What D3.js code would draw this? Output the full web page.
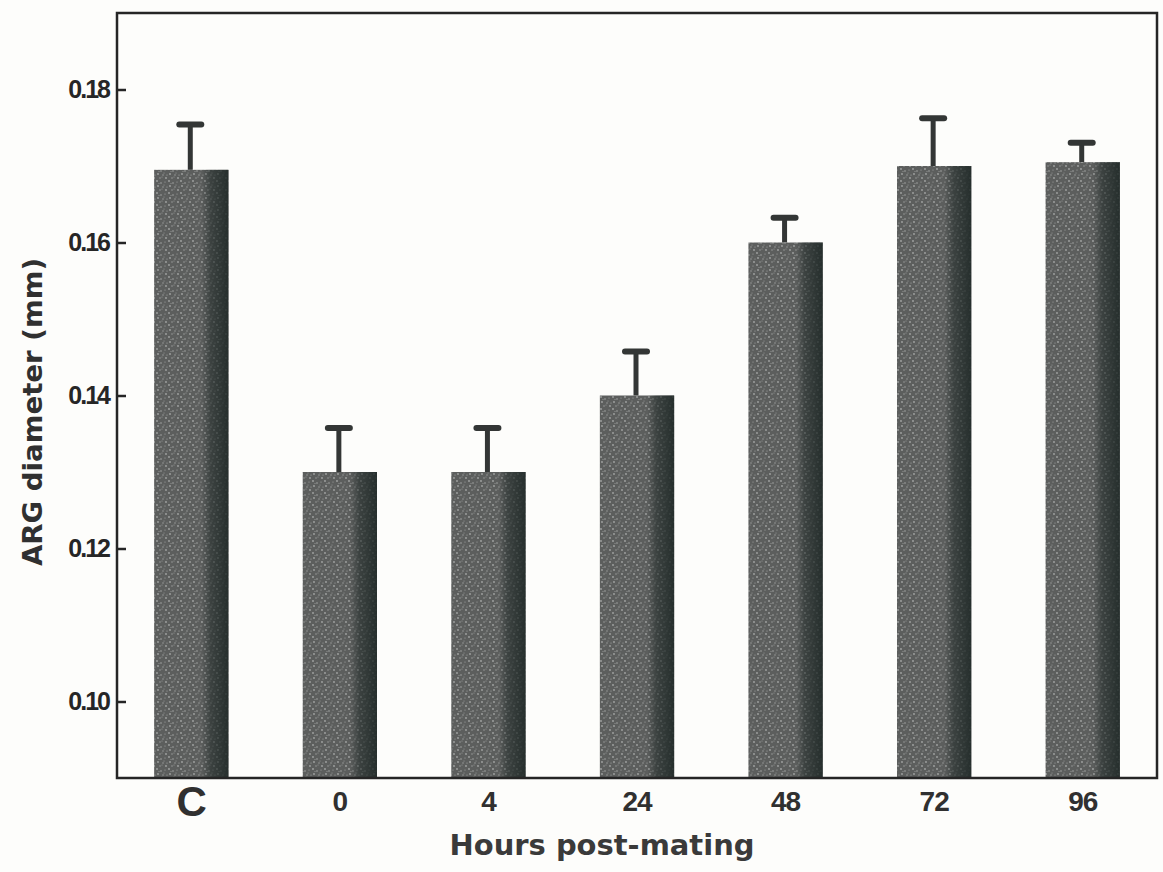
<!DOCTYPE html>
<html>
<head>
<meta charset="utf-8">
<script src="https://cdn.jsdelivr.net/npm/d3@7"></script>
<style>
  html, body { margin: 0; padding: 0; background: #fdfdfb; }
  svg { display: block; }
</style>
</head>
<body>
<svg id="chart" width="1163" height="872"></svg>
<script>
// Mean ARG diameter (mm) by time after mating, with upper error bar
const categories = ["C", "0", "4", "24", "48", "72", "96"];
const means      = [0.1695, 0.130, 0.130, 0.140, 0.160, 0.170, 0.1705];
const errTops    = [0.1757, 0.136, 0.136, 0.146, 0.1635, 0.1765, 0.1733];
const yTicks     = [0.10, 0.12, 0.14, 0.16, 0.18];
const yDomain    = [0.09, 0.19];

const svg = d3.select("#chart");
const margin = { left: 117, right: 6, top: 13, bottom: 94 };
const W = 1163, H = 872;
const ink = "#252525";
const labelFont = "'DejaVu Sans', 'Liberation Sans', sans-serif";

const x = d3.scaleBand()
  .domain(categories)
  .range([margin.left, W - margin.right])
  .paddingInner(0.5)
  .paddingOuter(0.25);

const y = d3.scaleLinear()
  .domain(yDomain)
  .range([H - margin.bottom, margin.top]);

// stippled fill for the bars
const defs = svg.append("defs");
const pat = defs.append("pattern")
  .attr("id", "stipple")
  .attr("patternUnits", "userSpaceOnUse")
  .attr("width", 12).attr("height", 12);
pat.append("rect").attr("width", 12).attr("height", 12).attr("fill", "#5c5e5d");
[[1,1,0.9],[5,3,0.8],[2,6,0.9],[7,7,0.7],[4,10,0.7],[9,2,0.6],[10,10,0.9],[8,5,0.5],[11,7,0.6],[3,3.5,0.5],[6,9,0.5]]
  .forEach(([cx, cy, r]) => {
    pat.append("circle").attr("cx", cx).attr("cy", cy).attr("r", r).attr("fill", "#a2a4a3");
  });
const shade = defs.append("linearGradient").attr("id", "shade")
  .attr("x1", "0").attr("x2", "1").attr("y1", "0").attr("y2", "0");
shade.append("stop").attr("offset", "0").attr("stop-color", "#1c2624").attr("stop-opacity", 0);
shade.append("stop").attr("offset", "0.64").attr("stop-color", "#1c2624").attr("stop-opacity", 0);
shade.append("stop").attr("offset", "0.76").attr("stop-color", "#1c2624").attr("stop-opacity", 0.5);
shade.append("stop").attr("offset", "1").attr("stop-color", "#1c2624").attr("stop-opacity", 0.85);

const data = categories.map((c, i) => ({ c, m: means[i], e: errTops[i] }));

// error bars (stem + rounded cap)
const eb = svg.append("g");
eb.selectAll("line.stem").data(data).join("line")
  .attr("class", "stem")
  .attr("x1", d => x(d.c) + x.bandwidth() / 2 - 1)
  .attr("x2", d => x(d.c) + x.bandwidth() / 2 - 1)
  .attr("y1", d => y(d.m))
  .attr("y2", d => y(d.e))
  .attr("stroke", "#333635").attr("stroke-width", 5);
eb.selectAll("line.cap").data(data).join("line")
  .attr("class", "cap")
  .attr("x1", d => x(d.c) + x.bandwidth() / 2 - 12)
  .attr("x2", d => x(d.c) + x.bandwidth() / 2 + 10)
  .attr("y1", d => y(d.e) + 2)
  .attr("y2", d => y(d.e) + 2)
  .attr("stroke", "#333635").attr("stroke-width", 6).attr("stroke-linecap", "round");

// bars
const bars = svg.append("g");
bars.selectAll("rect.bar").data(data).join("rect")
  .attr("class", "bar")
  .attr("x", d => x(d.c))
  .attr("width", x.bandwidth())
  .attr("y", d => y(d.m))
  .attr("height", d => y(yDomain[0]) - y(d.m))
  .attr("fill", "url(#stipple)");
bars.selectAll("rect.shade").data(data).join("rect")
  .attr("class", "shade")
  .attr("x", d => x(d.c))
  .attr("width", x.bandwidth())
  .attr("y", d => y(d.m))
  .attr("height", d => y(yDomain[0]) - y(d.m))
  .attr("fill", "url(#shade)");

// frame
svg.append("rect")
  .attr("x", margin.left).attr("y", margin.top)
  .attr("width", W - margin.right - margin.left)
  .attr("height", H - margin.bottom - margin.top)
  .attr("fill", "none").attr("stroke", ink).attr("stroke-width", 2.5);

// y axis with short inward ticks
const yAxis = svg.append("g")
  .attr("transform", `translate(${margin.left},0)`)
  .call(d3.axisRight(y).tickValues(yTicks).tickSize(9).tickFormat(d3.format(".2f")));
yAxis.select(".domain").remove();
yAxis.selectAll(".tick line").attr("stroke", ink).attr("stroke-width", 2.5);
yAxis.selectAll(".tick text")
  .attr("x", -8)
  .attr("text-anchor", "end")
  .attr("fill", "#262626")
  .style("font-family", "'Liberation Sans', Arial, sans-serif")
  .style("font-weight", "bold")
  .style("font-size", "25px")
  .style("letter-spacing", "-2px");

// x axis labels
const xAxis = svg.append("g")
  .attr("transform", `translate(0,${H - margin.bottom})`)
  .call(d3.axisBottom(x).tickSize(0).tickPadding(0));
xAxis.select(".domain").remove();
xAxis.selectAll(".tick text")
  .attr("fill", "#303030")
  .attr("y", 23)
  .attr("dy", d => d === "C" ? "0.36em" : "0.36em")
  .style("font-family", "'Liberation Sans Narrow', 'Liberation Sans', Arial, sans-serif")
  .style("font-weight", "bold")
  .style("font-size", d => d === "C" ? "42px" : "28px")
  .style("letter-spacing", "-1px");

// axis titles
svg.append("text")
  .attr("x", 602)
  .attr("y", 855)
  .attr("text-anchor", "middle")
  .attr("fill", "#3a3a3a")
  .attr("textLength", 305)
  .attr("lengthAdjust", "spacingAndGlyphs")
  .style("font-family", labelFont)
  .style("font-weight", "bold")
  .style("font-size", "29px")
  .text("Hours post-mating");

svg.append("text")
  .attr("transform", "translate(42,412) rotate(-90)")
  .attr("text-anchor", "middle")
  .attr("fill", "#303030")
  .attr("textLength", 308)
  .attr("lengthAdjust", "spacingAndGlyphs")
  .style("font-family", labelFont)
  .style("font-weight", "bold")
  .style("font-size", "26px")
  .text("ARG diameter (mm)");
</script>
</body>
</html>
